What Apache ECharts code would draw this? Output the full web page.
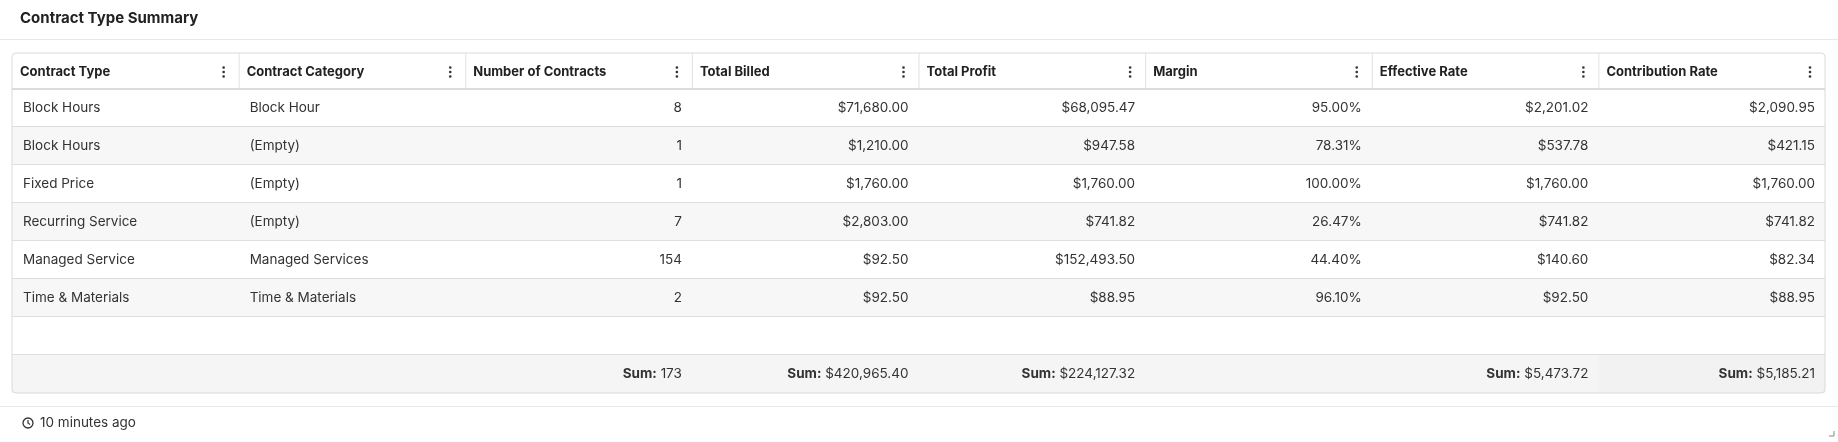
<!DOCTYPE html>
<html>
<head>
<meta charset="utf-8">
<script src="https://cdn.jsdelivr.net/npm/echarts@6/dist/echarts.min.js"></script>
<style>
  html, body { margin: 0; padding: 0; background: #fff; }
  #main { width: 1838px; height: 442px; }
</style>
</head>
<body>
<div id="main"></div>
<script>
// table data
var headers = ['Contract Type', 'Contract Category', 'Number of Contracts', 'Total Billed', 'Total Profit', 'Margin', 'Effective Rate', 'Contribution Rate'];
var contractTypes = ['Block Hours', 'Block Hours', 'Fixed Price', 'Recurring Service', 'Managed Service', 'Time & Materials'];
var contractCategories = ['Block Hour', '(Empty)', '(Empty)', '(Empty)', 'Managed Services', 'Time & Materials'];
var numContracts = ['8', '1', '1', '7', '154', '2'];
var totalBilled = ['$71,680.00', '$1,210.00', '$1,760.00', '$2,803.00', '$92.50', '$92.50'];
var totalProfit = ['$68,095.47', '$947.58', '$1,760.00', '$741.82', '$152,493.50', '$88.95'];
var margin = ['95.00%', '78.31%', '100.00%', '26.47%', '44.40%', '96.10%'];
var effectiveRate = ['$2,201.02', '$537.78', '$1,760.00', '$741.82', '$140.60', '$92.50'];
var contributionRate = ['$2,090.95', '$421.15', '$1,760.00', '$741.82', '$82.34', '$88.95'];
var sums = ['', '', '173', '$420,965.40', '$224,127.32', '', '$5,473.72', '$5,185.21'];

var columns = [contractTypes, contractCategories, numContracts, totalBilled, totalProfit, margin, effectiveRate, contributionRate];
var rightAlign = [false, false, true, true, true, true, true, true];

var tableLeft = 12, tableRight = 1825, tableTop = 53;
var headH = 36, rowH = 38;
var colW = (tableRight - tableLeft) / headers.length;
var font = 'Inter, "Noto Sans", sans-serif';

var els = [];

// title
els.push({ type: 'text', left: 20, top: 11, style: { text: 'Contract Type Summary', font: 'bold 15px ' + font, fill: '#222' } });
els.push({ type: 'rect', shape: { x: 0, y: 39, width: 1838, height: 1 }, style: { fill: '#e8e8e8' } });

var nRows = contractTypes.length;
var emptyTop = tableTop + headH + nRows * rowH;
var sumTop = emptyTop + rowH;
var tableBottom = sumTop + rowH;

// row backgrounds
for (var r = 0; r < nRows; r++) {
    var y = tableTop + headH + r * rowH;
    els.push({ type: 'rect', shape: { x: tableLeft, y: y, width: tableRight - tableLeft, height: rowH }, style: { fill: r % 2 ? '#f7f7f7' : '#fff' } });
    els.push({ type: 'rect', shape: { x: tableLeft, y: y + rowH - 1, width: tableRight - tableLeft, height: 1 }, style: { fill: '#dedede' } });
}
els.push({ type: 'rect', shape: { x: tableLeft, y: emptyTop + rowH - 1, width: tableRight - tableLeft, height: 1 }, style: { fill: '#dedede' } });
els.push({ type: 'rect', shape: { x: tableLeft, y: sumTop, width: tableRight - tableLeft, height: rowH }, style: { fill: '#f5f5f5' } });
els.push({ type: 'rect', shape: { x: tableLeft + 7 * colW, y: sumTop, width: colW, height: rowH }, style: { fill: '#f2f2f2' } });

// header line
els.push({ type: 'rect', shape: { x: tableLeft, y: tableTop + headH - 1, width: tableRight - tableLeft, height: 2 }, style: { fill: '#dcdcdc' } });

// outer border
els.push({ type: 'rect', shape: { x: tableLeft, y: tableTop, width: tableRight - tableLeft, height: tableBottom - tableTop, r: 4 }, style: { fill: 'none', stroke: '#dadada', lineWidth: 1 } });

// header cells
for (var c = 0; c < headers.length; c++) {
    var x0 = tableLeft + c * colW;
    if (c > 0) els.push({ type: 'rect', shape: { x: x0, y: tableTop, width: 1, height: headH }, style: { fill: '#e2e2e2' } });
    els.push({ type: 'text', x: x0 + 8, y: tableTop + headH / 2 + 1, style: { text: headers[c], font: 'bold 13px ' + font, fill: '#222', verticalAlign: 'middle' } });
    for (var d = -1; d <= 1; d++) {
        els.push({ type: 'circle', shape: { cx: x0 + colW - 15, cy: tableTop + headH / 2 + 1 + d * 4.5, r: 1.3 }, style: { fill: '#333' } });
    }
    var col = columns[c];
    for (var r2 = 0; r2 < col.length; r2++) {
        var cy = tableTop + headH + r2 * rowH + rowH / 2;
        els.push({ type: 'text', x: rightAlign[c] ? x0 + colW - 10 : x0 + 11, y: cy, style: { text: col[r2], font: '13.5px ' + font, fill: '#333', align: rightAlign[c] ? 'right' : 'left', verticalAlign: 'middle' } });
    }
    if (sums[c]) {
        els.push({ type: 'text', x: x0 + colW - 10, y: sumTop + rowH / 2, style: { text: '{b|Sum:} ' + sums[c], font: '13.5px ' + font, fill: '#333', align: 'right', verticalAlign: 'middle', rich: { b: { font: 'bold 13.5px ' + font, fill: '#333' } } } });
    }
}

// footer
els.push({ type: 'rect', shape: { x: 0, y: 406, width: 1838, height: 1 }, style: { fill: '#e8e8e8' } });
els.push({ type: 'circle', shape: { cx: 28, cy: 423, r: 5 }, style: { fill: 'none', stroke: '#333', lineWidth: 1.3 } });
els.push({ type: 'polyline', shape: { points: [[28, 420], [28, 423], [30, 424.5]] }, style: { stroke: '#333', lineWidth: 1.2, fill: 'none' } });
els.push({ type: 'text', x: 40, y: 423, style: { text: '10 minutes ago', font: '13.5px ' + font, fill: '#333', verticalAlign: 'middle' } });
els.push({ type: 'polyline', shape: { points: [[1829, 436], [1834, 436], [1834, 431]] }, style: { stroke: '#888', lineWidth: 1, fill: 'none' } });

var chart = echarts.init(document.getElementById('main'));
chart.setOption({ animation: false, graphic: { elements: els } });
</script>
</body>
</html>
